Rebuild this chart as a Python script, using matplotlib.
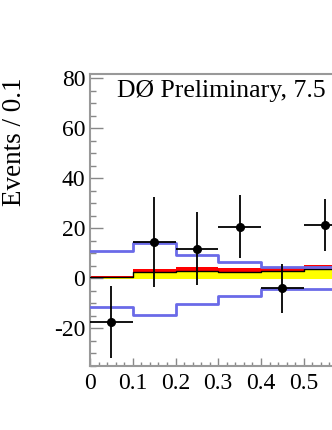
import matplotlib.pyplot as plt
import numpy as np

plt.rcParams['font.family'] = ['Liberation Serif', 'DejaVu Serif']
plt.rcParams['axes.unicode_minus'] = False

# bin edges and data
edges = np.array([0.0, 0.1, 0.2, 0.3, 0.4, 0.5, 0.6])
centers = np.array([0.05, 0.15, 0.25, 0.35, 0.45, 0.55])
data = np.array([-17.4, 14.6, 11.8, 20.6, -4.1, 21.2])
data_err = np.array([14.4, 18.0, 14.5, 12.5, 9.8, 10.5])

yellow_top = np.array([0.6, 2.4, 2.8, 2.6, 3.0, 3.6])
red_top = np.array([1.0, 3.7, 4.4, 4.1, 4.4, 5.3])

blue_up = np.array([10.9, 14.0, 9.4, 6.3, 4.4, 4.6])
blue_down = np.array([-11.6, -14.7, -10.4, -7.0, -4.3, -4.4])

xtick_vals = [0, 0.1, 0.2, 0.3, 0.4, 0.5]
xtick_labels = ['0', '0.1', '0.2', '0.3', '0.4', '0.5']


def steps(v):
    return np.append(v, v[-1])


fig = plt.figure(figsize=(3.32, 4.30), dpi=100)
# the original plot is wider than this crop, so the axes run off the right edge
ax = fig.add_axes([90 / 332, 1 - 365.7 / 430, 427.5 / 332, (365.7 - 74) / 430])

ax.fill_between(edges, -0.3, steps(yellow_top), step='post', color='#ffff00', lw=0, zorder=1)
ax.fill_between(edges, steps(yellow_top), steps(red_top), step='post', color='#ff0000', lw=0, zorder=2)
ax.step(edges, steps(yellow_top), where='post', color='black', lw=1, zorder=3)

ax.step(edges, steps(blue_up), where='post', color='#6a6ae8', lw=2, zorder=4)
ax.step(edges, steps(blue_down), where='post', color='#6a6ae8', lw=2, zorder=4)

ax.errorbar(centers, data, xerr=0.05, yerr=data_err, fmt='o', color='black',
            ms=5.5, elinewidth=1.3, capsize=0, zorder=5)

ax.text(0.063, 72.5, 'DØ Preliminary, 7.5', fontsize=18.5, va='baseline', ha='left')

ax.set_xlim(0, 1)
ax.set_ylim(-35, 81.7)
ax.set_xticks(xtick_vals)
ax.set_xticklabels(xtick_labels)
ax.set_xticks(np.arange(0, 1.001, 0.02), minor=True)
ax.set_yticks([-20, 0, 20, 40, 60, 80])
ax.set_yticks(np.arange(-35, 81, 5), minor=True)

ax.tick_params(which='both', direction='in', color='#888888', labelsize=17)
ax.tick_params(axis='y', which='major', length=9.5, width=1)
ax.tick_params(axis='y', which='minor', length=4.5, width=1)
ax.tick_params(axis='x', which='major', length=6, width=1, pad=5)
ax.tick_params(axis='x', which='minor', length=3, width=1)
for s in ax.spines.values():
    s.set_color('#999999')
    s.set_linewidth(1.5)

ax.set_ylabel('Events / 0.1', fontsize=19.5)
ax.yaxis.set_label_coords(-0.148, 0.767)

fig.savefig('out.png', dpi=100)
